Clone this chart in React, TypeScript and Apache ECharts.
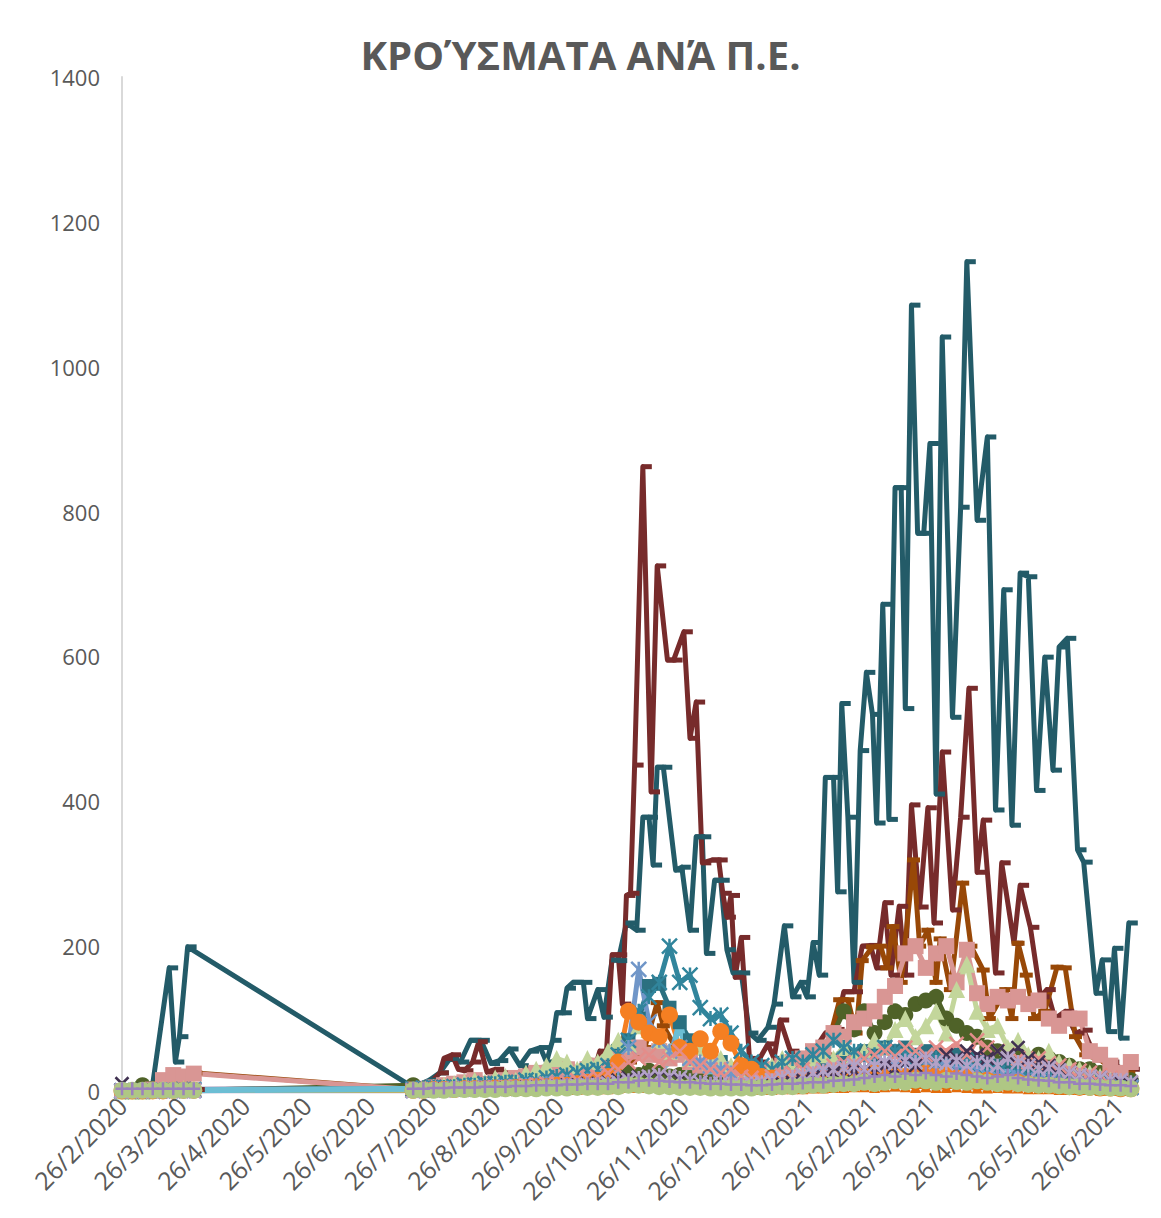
import React, { useEffect, useRef } from "react";
import * as echarts from "echarts";

// ---------- axis labels ----------
const chartTitle = "ΚΡΟΎΣΜΑΤΑ ΑΝΆ Π.Ε.";
const tickLabels = [
  "26/2/2020", "26/3/2020", "26/4/2020", "26/5/2020", "26/6/2020", "26/7/2020",
  "26/8/2020", "26/9/2020", "26/10/2020", "26/11/2020", "26/12/2020", "26/1/2021",
  "26/2/2021", "26/3/2021", "26/4/2021", "26/5/2021", "26/6/2021",
];

// ---------- big series (days since 26/2/2020) ----------
const tealDays = [0, 5, 10, 15, 23, 26, 28, 32,
  142, 150, 155, 160, 165, 170, 175, 180, 184, 189, 194, 199, 204, 207, 210, 212, 215, 217, 220, 225, 227,
  232, 235, 239, 242, 246, 251, 254, 257, 259, 261, 264, 270, 273, 277, 280, 283, 285, 289, 292, 295, 298,
  302, 306, 310, 315, 318, 323, 327, 331, 334, 337, 340, 343, 347, 349, 351, 354, 357, 360, 363, 366, 368,
  371, 374, 377, 380, 382, 385, 388, 391, 394, 397, 400, 405, 409, 412, 417, 422, 426, 430, 434, 438, 442,
  446, 450, 454, 457, 461, 466, 469, 475, 478, 481, 484, 487, 491];
const tealCases = [0, 0, 1, 10, 170, 40, 75, 199,
  5, 15, 25, 45, 40, 70, 70, 38, 42, 58, 35, 55, 60, 40, 70, 108, 108, 142, 150, 150, 100,
  140, 102, 181, 180, 232, 222, 378, 378, 312, 447, 447, 305, 309, 222, 351, 351, 190, 291, 291, 195, 163,
  163, 80, 70, 88, 120, 228, 130, 150, 130, 205, 160, 433, 433, 275, 535, 378, 150, 470, 578, 520, 370,
  672, 375, 833, 833, 528, 1085, 770, 770, 894, 410, 1041, 516, 806, 1145, 788, 903, 388, 692, 367, 715, 710,
  415, 599, 443, 613, 625, 333, 316, 135, 181, 82, 197, 73, 232];

const redDays = [0, 10, 20, 30, 36,
  142, 150, 155, 157, 161, 164, 167, 171, 174, 178, 182, 187, 192, 197, 201, 206, 211, 216, 221, 226, 231,
  233, 236, 239, 242, 244, 246, 248, 250, 254, 258, 261, 266, 269, 274, 277, 280, 283, 288, 291, 293, 295,
  297, 299, 302, 306, 310, 315, 318, 321, 326, 331, 336, 343, 348, 352, 357, 361, 365, 368, 372, 375, 379,
  382, 385, 389, 393, 396, 400, 405, 409, 413, 417, 420, 426, 429, 435, 438, 443, 448, 451, 455, 460, 465,
  469, 475, 482, 488, 492];
const redCases = [0, 0, 1, 2, 2,
  3, 10, 25, 45, 50, 30, 28, 40, 68, 26, 30, 25, 22, 30, 22, 28, 25, 30, 25, 30, 35,
  55, 40, 188, 188, 120, 270, 273, 450, 862, 413, 725, 595, 595, 634, 487, 537, 315, 319, 319, 273, 240,
  270, 157, 212, 45, 40, 65, 45, 98, 55, 40, 50, 80, 85, 137, 137, 200, 201, 170, 260, 160, 255,
  160, 395, 254, 391, 232, 468, 250, 378, 556, 302, 374, 163, 315, 204, 284, 226, 130, 140, 100, 110, 80,
  84, 45, 40, 30, 30];

const brownDays = [0, 10, 20, 25, 30, 36,
  142, 165, 184, 204, 223, 238, 248, 255, 261, 264, 270, 277, 284, 292, 301, 311, 321, 328, 337, 343, 350,
  354, 358, 361, 366, 370, 373, 376, 380, 386, 389, 393, 397, 399, 404, 410, 414, 420, 423, 431, 434, 437,
  441, 445, 450, 456, 460, 465, 470, 477, 483, 491];
const brownCases = [0, 1, 5, 15, 22, 25,
  2, 5, 8, 10, 12, 20, 40, 60, 122, 90, 60, 45, 40, 30, 20, 25, 30, 35, 57, 50, 126,
  126, 80, 180, 199, 200, 170, 227, 150, 319, 200, 222, 150, 210, 140, 287, 200, 167, 100, 140, 100, 204,
  160, 100, 110, 171, 170, 75, 50, 43, 30, 25];

// ---------- smaller series on a common grid ----------
const gridDays = [0, 5, 10, 15, 20, 25, 30, 35,
  142, 147, 152, 157, 162, 167, 172, 177, 182, 187, 192, 197, 202, 207, 212, 217, 222, 227, 232, 237,
  242, 247, 252, 257, 262, 267, 272, 277, 282, 287, 292, 297, 302, 307, 312, 317, 322, 327, 332, 337,
  342, 347, 352, 357, 362, 367, 372, 377, 382, 387, 392, 397, 402, 407, 412, 417, 422, 427, 432, 437,
  442, 447, 452, 457, 462, 467, 472, 477, 482, 487, 492];

const pinkCases = [0, 0, 0, 2, 15, 22, 20, 24,
  2, 3, 5, 8, 10, 12, 15, 10, 12, 15, 18, 20, 25, 22, 28, 30, 25, 30, 35, 30,
  45, 55, 60, 50, 55, 45, 50, 40, 35, 40, 30, 25, 20, 25, 20, 30, 35, 40, 45, 55,
  60, 80, 75, 95, 100, 110, 130, 145, 190, 200, 170, 190, 200, 150, 195, 135, 120, 130, 125, 130,
  120, 125, 100, 90, 100, 100, 55, 50, 35, 25, 40];
const greenTriCases = [0, 0, 0, 1, 2, 2, 3, 2,
  2, 3, 5, 8, 10, 12, 15, 12, 18, 20, 15, 25, 30, 35, 45, 40, 30, 45, 40, 55,
  70, 65, 90, 85, 70, 55, 60, 45, 60, 40, 45, 35, 20, 30, 25, 35, 45, 30, 35, 40,
  50, 45, 60, 50, 55, 70, 60, 85, 100, 75, 90, 110, 80, 140, 175, 110, 85, 90, 60, 70,
  50, 45, 55, 40, 35, 30, 25, 20, 15, 12, 10];
const oliveCases = [0, 0, 8, 3, 2, 2, 1, 1,
  8, 3, 3, 4, 5, 5, 6, 5, 6, 8, 8, 10, 10, 12, 10, 12, 14, 12, 15, 18,
  20, 25, 22, 28, 25, 20, 22, 18, 15, 12, 12, 10, 10, 8, 10, 15, 20, 25, 35, 45,
  60, 80, 110, 85, 110, 80, 95, 110, 105, 120, 125, 130, 100, 90, 80, 75, 60, 55, 50, 45,
  40, 50, 45, 40, 35, 30, 30, 25, 20, 18, 15];
const cyanStarCases = [0, 0, 0, 0, 1, 1, 2, 2,
  3, 4, 5, 5, 6, 8, 8, 10, 10, 12, 12, 15, 14, 18, 20, 22, 25, 28, 30, 35,
  50, 70, 110, 130, 150, 200, 150, 160, 115, 100, 105, 80, 55, 40, 35, 30, 40, 45, 40, 50,
  55, 70, 60, 55, 45, 50, 60, 55, 50, 45, 40, 45, 40, 35, 40, 30, 25, 25, 20, 25,
  20, 15, 18, 15, 12, 10, 10, 8, 6, 6, 5];
const blueStarCases = [0, 0, 0, 0, 1, 1, 1, 1,
  1, 2, 2, 3, 3, 4, 4, 5, 5, 6, 6, 8, 8, 10, 10, 12, 12, 15, 15, 20,
  30, 60, 168, 95, 70, 55, 60, 45, 40, 35, 30, 25, 20, 15, 15, 12, 15, 18, 20, 22,
  25, 28, 30, 35, 30, 35, 40, 35, 38, 40, 35, 30, 35, 30, 25, 28, 22, 20, 18, 20,
  15, 15, 12, 12, 10, 10, 8, 8, 6, 5, 5];
const orangeCases = [0, 0, 0, 0, 0, 1, 1, 1,
  1, 1, 2, 2, 2, 3, 3, 3, 4, 4, 5, 5, 6, 6, 8, 8, 10, 12, 15, 20,
  40, 110, 95, 80, 75, 105, 60, 55, 72, 55, 82, 66, 35, 30, 20, 18, 15, 15, 12, 15,
  15, 18, 20, 15, 20, 25, 22, 25, 20, 22, 25, 20, 22, 18, 20, 15, 15, 12, 10, 12,
  10, 8, 8, 7, 6, 5, 5, 4, 4, 3, 3];
const darkCyanCases = [0, 0, 0, 0, 1, 2, 2, 2,
  2, 2, 3, 3, 4, 4, 5, 5, 6, 6, 8, 8, 10, 10, 12, 15, 18, 20, 25, 35,
  55, 70, 100, 145, 148, 115, 95, 70, 60, 50, 40, 30, 25, 20, 18, 20, 22, 25, 28, 30,
  35, 40, 45, 50, 55, 50, 60, 55, 60, 50, 55, 50, 45, 50, 45, 40, 38, 35, 40, 35,
  30, 28, 30, 25, 22, 20, 18, 15, 12, 10, 10];
const darkPurpleCases = [10, 0, 0, 1, 1, 1, 1, 1,
  1, 1, 1, 2, 2, 2, 3, 3, 3, 4, 4, 5, 5, 6, 6, 8, 8, 10, 10, 12,
  15, 18, 20, 18, 20, 18, 15, 15, 12, 10, 10, 8, 8, 6, 6, 8, 10, 12, 15, 18,
  20, 25, 22, 28, 30, 25, 35, 30, 40, 35, 45, 40, 50, 45, 55, 50, 45, 55, 50, 60,
  45, 40, 35, 30, 25, 22, 20, 18, 15, 12, 10];
const lilacCases = [0, 0, 0, 0, 0, 0, 0, 0,
  0, 1, 1, 1, 2, 2, 2, 3, 3, 3, 4, 4, 5, 5, 6, 6, 7, 8, 8, 10,
  12, 15, 18, 20, 22, 20, 18, 15, 12, 10, 10, 8, 8, 10, 12, 15, 18, 20, 22, 25,
  28, 30, 32, 35, 30, 35, 40, 38, 42, 40, 45, 40, 38, 42, 35, 40, 38, 35, 45, 40,
  35, 30, 32, 28, 25, 22, 20, 18, 15, 15, 12];
const salmonCases = [0, 0, 0, 0, 1, 1, 1, 1,
  1, 1, 2, 2, 3, 3, 4, 4, 5, 5, 6, 8, 8, 10, 10, 12, 15, 18, 20, 25,
  30, 40, 45, 50, 40, 45, 55, 40, 35, 30, 25, 30, 20, 18, 15, 20, 22, 25, 30, 28,
  30, 35, 40, 38, 45, 50, 55, 48, 60, 55, 50, 60, 55, 65, 50, 70, 60, 55, 50, 45,
  40, 45, 38, 35, 30, 28, 25, 22, 18, 15, 12];
const rustCases = [0, 0, 0, 0, 0, 0, 0, 0,
  0, 0, 0, 0, 1, 1, 1, 1, 1, 1, 1, 1, 2, 2, 2, 2, 2, 3, 3, 3,
  4, 5, 5, 6, 5, 5, 4, 4, 3, 3, 3, 2, 2, 2, 2, 2, 3, 3, 3, 4,
  4, 5, 5, 6, 6, 5, 6, 7, 6, 5, 6, 5, 5, 6, 5, 4, 4, 5, 4, 4,
  3, 3, 3, 2, 2, 2, 2, 1, 1, 1, 1];
const paleGreenCases = [1, 1, 1, 1, 1, 1, 1, 1,
  1, 1, 1, 1, 2, 2, 2, 2, 2, 3, 3, 3, 3, 4, 4, 4, 5, 5, 5, 6,
  6, 8, 8, 7, 6, 6, 5, 5, 5, 4, 4, 4, 4, 4, 5, 5, 6, 6, 7, 8,
  8, 9, 10, 10, 12, 10, 12, 14, 12, 15, 14, 12, 15, 13, 12, 14, 12, 10, 12, 10,
  9, 8, 8, 7, 6, 6, 5, 5, 4, 4, 3];
const purplePlusCases = [3, 3, 3, 3, 3, 3, 3, 3,
  3, 3, 4, 4, 5, 5, 5, 6, 6, 6, 7, 7, 8, 8, 8, 9, 9, 10, 10, 10,
  12, 12, 14, 15, 14, 13, 12, 12, 11, 10, 10, 9, 9, 8, 8, 9, 10, 10, 11, 12,
  12, 14, 15, 16, 18, 20, 22, 20, 24, 22, 25, 22, 20, 24, 22, 20, 18, 20, 22, 18,
  16, 15, 14, 12, 12, 10, 10, 9, 8, 8, 7];
const skyCases = [1, 1, 1, 1, 1, 1, 1, 1,
  3, 4, 5, 6, 6, 8, 8, 10, 10, 12, 12, 10, 12, 14, 12, 15, 15, 18, 16, 18,
  20, 22, 25, 30, 28, 40, 95, 30, 25, 22, 20, 18, 18, 15, 15, 18, 20, 18, 15, 15,
  18, 20, 22, 20, 25, 22, 20, 25, 22, 28, 25, 30, 25, 28, 22, 25, 20, 22, 28, 25,
  20, 22, 25, 20, 18, 20, 15, 18, 15, 12, 10];

// ---------- helpers ----------
const BASE = Date.UTC(2020, 1, 26);
const DAY = 86400000;
function dayOf(label: string): number {
  const [d, m, y] = label.split("/").map(Number);
  return Math.round((Date.UTC(y, m - 1, d) - BASE) / DAY);
}
function labelOf(day: number): string {
  const t = new Date(BASE + Math.round(day) * DAY);
  return `${t.getUTCDate()}/${t.getUTCMonth() + 1}/${t.getUTCFullYear()}`;
}
const pairs = (days: number[], vals: number[]) => vals.map((v, i) => [days[i], v]);

const STAR = "path://M0,0L10,10M10,0L0,10M5,0L5,10";
const XMARK = "path://M0,0L10,10M10,0L0,10";
const PLUS = "path://M5,0L5,10M0,5L10,5";

function line(
  name: string, days: number[], vals: number[], color: string,
  symbol: string, symbolSize: any, width = 5, extra: any = {}
) {
  const stroked = symbol.startsWith("path://");
  return {
    name,
    type: "line",
    data: pairs(days, vals),
    showAllSymbol: true,
    symbol,
    symbolSize,
    lineStyle: { color, width, join: "round", cap: "round" },
    itemStyle: stroked
      ? { color, borderColor: color, borderWidth: 2.5 }
      : { color, borderColor: color, borderWidth: 0 },
    emphasis: { disabled: true },
    ...extra,
  };
}

export default function App() {
  const ref = useRef<HTMLDivElement>(null);
  useEffect(() => {
    document.body.style.margin = "0";
    const chart = echarts.init(ref.current!, undefined, { renderer: "svg" });
    const font = "'Open Sans', 'Noto Sans', sans-serif";
    chart.setOption({
      animation: false,
      backgroundColor: "#ffffff",
      textStyle: { fontFamily: font },
      graphic: [
        {
          type: "text",
          left: "center",
          top: 34,
          style: {
            text: chartTitle,
            fontSize: 40,
            fontWeight: "bold",
            fontFamily: font,
            fill: "#595959",
          },
        },
      ],
      grid: { left: 122, right: 24, top: 77, bottom: 127, containLabel: false },
      xAxis: {
        type: "value",
        min: 0,
        max: 495,
        axisLine: { show: true, lineStyle: { color: "#D9D9D9", width: 2 } },
        axisTick: { show: false },
        splitLine: { show: false },
        axisLabel: {
          customValues: tickLabels.map(dayOf),
          formatter: (v: number) => labelOf(v),
          rotate: 45,
          fontSize: 25,
          color: "#595959",
          margin: 10,
          fontFamily: font,
        },
      },
      yAxis: {
        type: "value",
        min: 0,
        max: 1400,
        interval: 200,
        axisLine: { show: true, lineStyle: { color: "#D9D9D9", width: 2 } },
        axisTick: { show: false },
        splitLine: { show: false },
        axisLabel: {
          fontSize: 22,
          color: "#595959",
          margin: 22,
          fontFamily: font,
          formatter: (v: number) => String(v),
        },
      },
      series: [
        line("Π.Ε. Α", tealDays, tealCases, "#235B68", "rect", [10, 5], 5, { symbolOffset: [4, 0] }),
        line("Π.Ε. Β", redDays, redCases, "#772B2B", "rect", [10, 5], 5, { symbolOffset: [4, 0] }),
        line("Π.Ε. Γ", brownDays, brownCases, "#984807", "rect", [13, 5], 5),
        line("Π.Ε. Δ", gridDays, oliveCases, "#4F6228", "circle", 16),
        line("Π.Ε. Ε", gridDays, darkCyanCases, "#2B7080", "rect", 14),
        line("Π.Ε. Ζ", gridDays, pinkCases, "#D99694", "rect", 16),
        line("Π.Ε. Η", gridDays, greenTriCases, "#C3D69B", "triangle", 17),
        line("Π.Ε. Θ", gridDays, cyanStarCases, "#31859C", STAR, 15),
        line("Π.Ε. Ι", gridDays, blueStarCases, "#7096C8", STAR, 15),
        line("Π.Ε. Κ", gridDays, orangeCases, "#F57F22", "circle", 17),
        line("Π.Ε. Λ", gridDays, salmonCases, "#E38D8A", XMARK, 14),
        line("Π.Ε. Μ", gridDays, darkPurpleCases, "#403151", XMARK, 13),
        line("Π.Ε. Ν", gridDays, lilacCases, "#B3A2C7", STAR, 14),
        line("Π.Ε. Ξ", gridDays, rustCases, "#E46C0A", "triangle", 11, 4),
        line("Π.Ε. Ο", gridDays, paleGreenCases, "#AFC784", "circle", 17),
        line("Π.Ε. Π", gridDays, purplePlusCases, "#9A82BC", PLUS, 13, 4),
        line("Π.Ε. Ρ", gridDays, skyCases, "#6CBED4", "none", 0, 6),
      ],
    });
    return () => chart.dispose();
  }, []);
  return (
    <div
      ref={ref}
      style={{ position: "absolute", left: 0, top: 0, width: 1161, height: 1218 }}
    />
  );
}
